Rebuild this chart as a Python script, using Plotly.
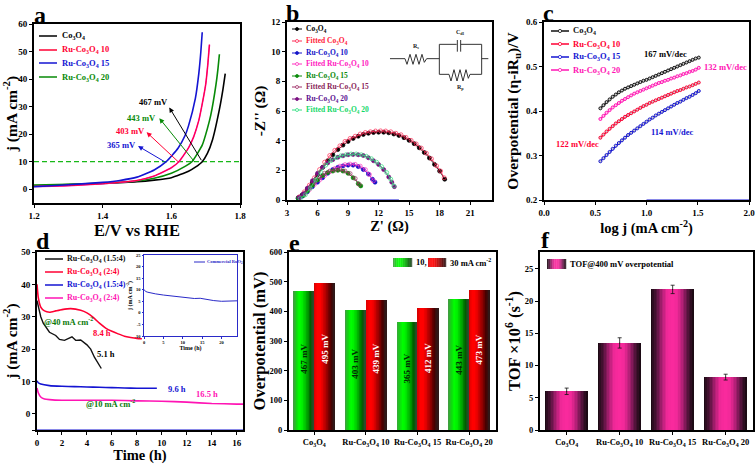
import plotly.graph_objects as go

W, H = 756, 464
FONT = "Liberation Serif"
BLACK, RED, BLUE, GREEN, MAG = "#000000", "#ff0033", "#1414d2", "#078a07", "#ff14b4"

# ---------- panel a
a_black_x = [1.2,1.3,1.4,1.5,1.55,1.6,1.65,1.67,1.69,1.705,1.72,1.74,1.75,1.757]
a_black_y = [1.2,1.7,2.1,2.7,3.3,4.2,6.5,8,10,13,18,29,36,42]
a_red_x = [1.2,1.3,1.4,1.5,1.55,1.6,1.622,1.65,1.665,1.68,1.69,1.7,1.706,1.711]
a_red_y = [1.0,1.3,2.0,3.2,4.8,7.8,10,15,19,25,31,38,45,52.5]
a_blue_x = [1.2,1.3,1.4,1.45,1.5,1.55,1.585,1.62,1.64,1.65,1.67,1.68,1.686,1.69]
a_blue_y = [0.9,1.6,2.5,3.2,4.4,7,10,15,19.5,23,33,42,50,57]
a_green_x = [1.2,1.3,1.4,1.5,1.55,1.6,1.64,1.66,1.69,1.705,1.715,1.73,1.736,1.74]
a_green_y = [1.5,1.8,2.2,3.0,4,5.8,8.3,10,16,22,27,38,44,49]
a_refx = [1.2, 1.8]
a_refy = [10, 10]

# ---------- panel b
b_co_x = [4.1,4.5,5,5.5,6,6.5,7,7.5,8,8.5,9,9.5,10,10.5,11,11.5,12,12.5,13,13.5,14,14.5,15,15.5,16,16.5,17,17.5,18,18.5]
b_co_y = [.15,.35,.75,1.2,1.7,2.2,2.65,3.05,3.4,3.7,3.95,4.15,4.3,4.42,4.5,4.55,4.57,4.57,4.53,4.45,4.35,4.2,4.02,3.8,3.52,3.2,2.83,2.4,1.95,1.4]
b_fco_x = [4.2,4.7,5.2,5.7,6.2,6.7,7.2,7.7,8.2,8.7,9.2,9.7,10.2,10.7,11.2,11.7,12.2,12.7,13.2,13.7,14.2,14.7,15.2,15.7,16.2,16.7,17.2,17.7,18.1,18.45]
b_fco_y = [.2,.55,1.0,1.5,2.05,2.55,3.0,3.35,3.65,3.95,4.15,4.3,4.45,4.55,4.6,4.65,4.66,4.65,4.6,4.5,4.4,4.22,4.02,3.78,3.5,3.15,2.78,2.3,1.95,1.5]
b_10_x = [4.1,4.5,5,5.5,6,6.5,7,7.5,8,8.5,9,9.5,10,10.5,11,11.4,11.65]
b_10_y = [.1,.25,.55,.9,1.2,1.5,1.8,2.05,2.2,2.3,2.35,2.35,2.25,2.05,1.75,1.4,1.2]
b_f10_x = [4.2,4.7,5.2,5.7,6.2,6.7,7.2,7.7,8.2,8.7,9.2,9.7,10.2,10.7,11.1,11.5]
b_f10_y = [.15,.4,.7,1.05,1.35,1.65,1.9,2.12,2.28,2.38,2.42,2.4,2.28,2.05,1.72,1.3]
b_15_x = [4.1,4.6,5,5.5,6,6.5,7,7.5,8,8.5,9,9.5,10,10.25]
b_15_y = [.1,.3,.6,1.0,1.35,1.65,1.85,1.95,2.0,1.95,1.8,1.5,1.1,.95]
b_f15_x = [4.2,4.7,5.2,5.7,6.2,6.7,7.2,7.7,8.2,8.7,9.2,9.7,10.1]
b_f15_y = [.2,.45,.8,1.2,1.55,1.8,1.95,2.02,2.05,1.95,1.78,1.45,1.05]
b_20_x = [4.2,4.6,5,5.5,6,6.5,7,7.5,8,8.5,9,9.5,10,10.5,11,11.5,12,12.5,13,13.3,13.55]
b_20_y = [.15,.4,.8,1.3,1.8,2.2,2.5,2.72,2.88,2.98,3.05,3.07,3.05,3.0,2.85,2.65,2.4,2.05,1.55,1.2,.9]
b_f20_x = [4.3,4.8,5.3,5.8,6.3,6.8,7.3,7.8,8.3,8.8,9.3,9.8,10.3,10.8,11.3,11.8,12.3,12.8,13.2,13.5]
b_f20_y = [.1,.35,.8,1.35,1.9,2.35,2.65,2.85,2.98,3.05,3.1,3.1,3.05,2.95,2.78,2.55,2.25,1.85,1.4,.95]
b_base_x = [6, 14]
b_base_y = [0, 0]

# ---------- panel c
c_x = [.55,.58,.61,.64,.67,.70,.73,.76,.79,.82,.85,.88,.91,.94,.97,1.00,1.03,1.06,1.09,1.12,1.15,1.18,1.21,1.24,1.27,1.30,1.33,1.36,1.39,1.42,1.45,1.48,1.51]
c_black = [.406,.413,.420,.426,.432,.437,.442,.446,.450,.453,.456,.459,.462,.465,.468,.470,.473,.476,.479,.482,.485,.488,.491,.494,.497,.500,.503,.506,.509,.512,.515,.518,.520]
c_mag = [.382,.389,.396,.402,.408,.413,.418,.423,.427,.431,.435,.439,.442,.445,.448,.451,.454,.457,.460,.463,.465,.468,.470,.473,.475,.478,.480,.483,.485,.488,.490,.493,.497]
c_red = [.340,.347,.354,.360,.366,.372,.377,.382,.387,.391,.395,.399,.403,.407,.411,.414,.418,.421,.424,.427,.430,.433,.436,.439,.442,.445,.447,.450,.453,.455,.458,.461,.464]
c_blue = [.287,.294,.301,.308,.315,.322,.328,.334,.340,.346,.351,.356,.361,.366,.371,.376,.381,.385,.390,.394,.398,.402,.406,.410,.414,.418,.421,.425,.429,.432,.436,.440,.445]
c_base_x = [1.0, 2.0]
c_base_y = [0.2, 0.2]

# ---------- panel d
d_black_x = [0,.1,.3,.5,1,1.5,1.8,2.2,2.5,2.8,3.1,3.5,4,4.3,4.6,5,5.15]
d_black_y = [35,33,30,28,25.2,24.2,23,22.7,23.2,23.8,22.7,22.8,21.3,20,17.5,15,14]
d_red_x = [0,.1,.3,.6,1,1.5,2,2.7,3.5,4,4.5,5,5.5,6,6.5,7,7.5,8,8.4]
d_red_y = [40,36,33,31.8,31.4,31.8,32.2,32.5,32,31.2,29.8,28,26.5,25.5,24.7,24,23.6,23.3,23.2]
d_blue_x = [0,.1,.3,1,2,3,4,5,6,7,8,9,9.6]
d_blue_y = [10.2,9.6,9.2,8.7,8.5,8.4,8.3,8.2,8.1,8,7.9,7.9,7.9]
d_mag_x = [0,.1,.3,.6,1,2,4,6,8,10,12,14,16,16.5]
d_mag_y = [8,6.5,5.2,4.6,4.4,4.2,4.2,4.2,4,3.9,3.6,3.2,3,3]
d_base_x = [0, 16.5]
d_base_y = [-5, -5]
inset_x = [0,.5,1,2,3,5,6,7,8,10,11,12,13,14.5,16,18,20,21,22,24]
inset_y = [10,9.2,8.9,8.5,8.2,7.7,7.5,7.1,6.9,6.7,6.6,6.2,6.2,6.3,5.8,5.3,5,5.1,5.2,5.2]

# ---------- panels e, f
CATS = ["Co<sub>3</sub>O<sub>4</sub>", "Ru-Co<sub>3</sub>O<sub>4</sub> 10",
        "Ru-Co<sub>3</sub>O<sub>4</sub> 15", "Ru-Co<sub>3</sub>O<sub>4</sub> 20"]
e_10 = [467, 403, 365, 443]
e_30 = [495, 439, 412, 473]
f_tof = [6.0, 13.5, 21.8, 8.2]
f_err = [0.5, 0.8, 0.65, 0.45]

GREEN_STOPS = ["#3f9f3f","#10d810","#00ff00","#00f000","#00c800","#009800","#005c00","#2c4c2c"]
RED_STOPS = ["#d80000","#ff0000","#ff0000","#e00000","#b00000","#800000","#480000","#301818"]
PINK_STOPS = ["#1c0a14","#5a1440","#b01f75","#f02898","#fb2a9e","#f02898","#b01f75","#5a1440","#1c0a14"]

def ramp(stops, n=28):
    rgb = [tuple(int(s[i:i+2], 16) for i in (1, 3, 5)) for s in stops]
    out = []
    for k in range(n):
        t = k / (n - 1) * (len(rgb) - 1)
        i = min(int(t), len(rgb) - 2)
        f = t - i
        out.append("#%02x%02x%02x" % tuple(round(a + (b - a) * f) for a, b in zip(rgb[i], rgb[i + 1])))
    return out

GREEN_RAMP, RED_RAMP, PINK_RAMP = ramp(GREEN_STOPS), ramp(RED_STOPS), ramp(PINK_STOPS)

fig = go.Figure()
shapes, annos = [], []

def fnt(size, color=BLACK):
    return dict(family=FONT, size=size, color=color, weight="bold")

def px(x): return x / W
def py(y): return 1 - y / H

def text(x, y, s, color=BLACK, size=8, anchor="left", angle=0):
    annos.append(dict(xref="paper", yref="paper", x=px(x), y=py(y), text=s, showarrow=False,
                      xanchor=anchor, yanchor="middle", textangle=angle, font=fnt(size, color)))

def hline(x0, x1, y, color, width=1.5):
    shapes.append(dict(type="line", xref="paper", yref="paper", x0=px(x0), x1=px(x1), y0=py(y), y1=py(y),
                       line=dict(color=color, width=width)))

def dot(x, y, r, color, fill):
    shapes.append(dict(type="circle", xref="paper", yref="paper", x0=px(x-r), x1=px(x+r), y0=py(y+r), y1=py(y-r),
                       fillcolor=fill, line=dict(color=color, width=0.8)))

def swatch(x0, x1, y0, y1, colors):
    n = len(colors)
    for i, c in enumerate(colors):
        shapes.append(dict(type="rect", xref="paper", yref="paper",
                           x0=px(x0 + (x1-x0)*i/n), x1=px(x0 + (x1-x0)*(i+1)/n + 0.2), y0=py(y1), y1=py(y0),
                           fillcolor=c, line=dict(width=0)))

axes = {}
def axis_pair(idx, box, xr, yr, xticks, yticks, xlabels=None, ylabels=None, xtitle=None, ytitle=None,
              tick=9, title=16.5, xsize=None, xstand=2, ystand=2, color=BLACK, lw=2, ticklen=3):
    l, t, r, b = box
    sx = "" if idx == 1 else str(idx)
    axes[f"xaxis{sx}"] = dict(domain=[px(l), px(r)], range=xr, anchor=f"y{sx}", tickmode="array", tickvals=xticks,
        ticktext=xlabels or [str(v) for v in xticks], ticks="outside", ticklen=ticklen, tickwidth=1, tickcolor=color,
        showgrid=False, zeroline=False, showline=True, mirror=True, linecolor=color, linewidth=lw, automargin=False,
        tickangle=0, tickfont=fnt(tick),
        title=dict(text=xtitle, standoff=xstand, font=fnt(xsize or title)) if xtitle else None)
    axes[f"yaxis{sx}"] = dict(domain=[py(b), py(t)], range=yr, anchor=f"x{sx}", tickmode="array", tickvals=yticks,
        ticktext=ylabels or [str(v) for v in yticks], ticks="outside", ticklen=ticklen, tickwidth=1, tickcolor=color,
        showgrid=False, zeroline=False, showline=True, mirror=True, linecolor=color, linewidth=lw, automargin=False,
        tickfont=fnt(tick),
        title=dict(text=ytitle, standoff=ystand, font=fnt(title)) if ytitle else None)
    return f"x{sx}", f"y{sx}"

def curve(ax, x, y, color, width=1.6, dash=None, shape="spline"):
    line = dict(color=color, width=width, dash=dash, shape=shape)
    if shape == "spline":
        line["smoothing"] = 0.5
    fig.add_trace(go.Scatter(x=x, y=y, mode="lines", xaxis=ax[0], yaxis=ax[1], showlegend=False,
                             line=line, hoverinfo="skip", cliponaxis=False))

def strips(ax, centers, values, width, colors):
    n = len(colors)
    for i, c in enumerate(colors):
        off = -width/2 + width*i/n
        fig.add_trace(go.Bar(x=centers, y=values, offset=off, width=width/n*1.15, xaxis=ax[0], yaxis=ax[1],
                             marker=dict(color=c, line=dict(width=0)), showlegend=False, hoverinfo="skip"))

# ---- a
A = axis_pair(1, (34, 24, 240, 203), [1.2, 1.8], [-5, 60], [1.2, 1.4, 1.6, 1.8], [0, 10, 20, 30, 40, 50, 60],
              xlabels=["1.2", "1.4", "1.6", "1.8"], xtitle="E/V vs RHE", ytitle="j (mA cm<sup>-2</sup>)",
              title=15.5, xsize=16.5, ystand=4)
curve(A, a_refx, a_refy, "#18b818", 1.3, "5px,3px", "linear")
curve(A, a_black_x, a_black_y, BLACK)
curve(A, a_green_x, a_green_y, GREEN)
curve(A, a_red_x, a_red_y, MAG)
curve(A, a_red_x, a_red_y, RED, 1.0)
curve(A, a_blue_x, a_blue_y, BLUE)
for lab, col, lx, ly, tx, ty, hx, hy in [
    ("467 mV", BLACK, 1.547, 31.5, 1.69, 10, 1.594, 29.7),
    ("443 mV", GREEN, 1.513, 26, 1.671, 9.4, 1.565, 25.8),
    ("403 mV", RED, 1.482, 21, 1.625, 9.4, 1.528, 20.7),
    ("365 mV", BLUE, 1.455, 16, 1.583, 9.8, 1.503, 15.7)]:
    annos.append(dict(xref="x", yref="y", x=hx, y=hy, ax=tx, ay=ty, axref="x", ayref="y", showarrow=True,
                      arrowhead=2, arrowsize=1, arrowwidth=1, arrowcolor=col, text=""))
    annos.append(dict(xref="x", yref="y", x=lx, y=ly, text=lab, showarrow=False, font=fnt(8.5, col)))
for y, s, c in zip([36, 50, 63, 77], CATS, [BLACK, RED, BLUE, GREEN]):
    hline(39, 57, y, c)
    text(60, y, s, c, 8.5)

# ---- b
B = axis_pair(2, (287, 22, 492, 200), [3, 23.15], [0, 12], [3, 6, 9, 12, 15, 18, 21], [0, 2, 4, 6, 8, 10, 12],
              xtitle="Z' (Ω)", ytitle="-Z'' (Ω)", title=15.5, xsize=14.5)
b_series = [
    (b_co_x, b_co_y, "#000000", True, "Co<sub>3</sub>O<sub>4</sub>", "#000000"),
    (b_fco_x, b_fco_y, "#ff2a55", False, "Fitted Co<sub>3</sub>O<sub>4</sub>", "#ff1a3a"),
    (b_10_x, b_10_y, "#1414c8", True, "Ru-Co<sub>3</sub>O<sub>4</sub> 10", "#1414c8"),
    (b_f10_x, b_f10_y, "#ff30c0", False, "Fitted Ru-Co<sub>3</sub>O<sub>4</sub> 10", "#ff20c0"),
    (b_15_x, b_15_y, "#0a8a0a", True, "Ru-Co<sub>3</sub>O<sub>4</sub> 15", "#0a8a0a"),
    (b_f15_x, b_f15_y, "#a03068", False, "Fitted Ru-Co<sub>3</sub>O<sub>4</sub> 15", "#8a1f5a"),
    (b_20_x, b_20_y, "#7a0f80", True, "Ru-Co<sub>3</sub>O<sub>4</sub> 20", "#5a1090"),
    (b_f20_x, b_f20_y, "#30e080", False, "Fitted Ru-Co<sub>3</sub>O<sub>4</sub> 20", "#14d868"),
]
curve(B, b_base_x, b_base_y, BLUE, 1.2, None, "linear")
for (x, y, col, filled, name, tc), ly in zip(b_series, [29, 41, 53, 64, 76, 87, 99, 110]):
    fig.add_trace(go.Scatter(x=x, y=y, mode="lines+markers", xaxis=B[0], yaxis=B[1], showlegend=False, hoverinfo="skip",
                             line=dict(color=col, width=0.8),
                             marker=dict(symbol="circle" if filled else "circle-open", size=4, color=col,
                                         line=dict(color=col, width=0.7))))
    hline(292, 302, ly, col, 1)
    dot(297, ly, 1.5, col, col if filled else "#ffffff")
    text(304, ly, name, tc, 7.5)

# circuit diagram
def cx(v): return px(385 + v/3)
def cy(v): return py(25 + v/3)
def poly(points):
    return "M " + " L ".join(f"{cx(a):.5f},{cy(b):.5f}" for a, b in points)
CIRC = "#333333"
wires = [[(15,101),(60,101),(66,118),(75,88),(84,118),(93,88),(102,118),(111,88),(118,112),(125,101),(163,101)],
         [(215,58),(163,58),(163,148),(192,148),(198,168),(207,134),(216,168),(225,134),(234,168),(243,134),(250,160),(255,148),(290,148),(290,58),(227,58)],
         [(217,45),(217,80)], [(227,45),(227,80)], [(290,101),(310,101)]]
for w in wires:
    shapes.append(dict(type="path", xref="paper", yref="paper", path=poly(w), line=dict(color=CIRC, width=1)))
text(385+93/3, 25+65/3, "R<sub>s</sub>", "#222222", 6, "center")
text(385+226/3, 25+22/3, "C<sub>dl</sub>", "#222222", 6, "center")
text(385+226/3, 25+188/3, "R<sub>p</sub>", "#222222", 6, "center")

# ---- c
C = axis_pair(3, (544, 22, 749, 200), [0, 2], [0.2, 0.6], [0, .5, 1, 1.5, 2], [.2, .3, .4, .5, .6],
              xlabels=["0.0", "0.5", "1.0", "1.5", "2.0"], ylabels=["0.2", "0.3", "0.4", "0.5", "0.6"],
              xtitle="log j (mA cm<sup>-2</sup>)", ytitle="Overpotential (η-iR<sub>u</sub>)/V",
              title=15.5, xsize=14.5, ystand=4)
curve(C, c_base_x, c_base_y, BLUE, 1.2, None, "linear")
for y, col in [(c_black, "#111111"), (c_mag, MAG), (c_red, RED), (c_blue, BLUE)]:
    fig.add_trace(go.Scatter(x=c_x, y=y, mode="lines+markers", xaxis=C[0], yaxis=C[1], showlegend=False, hoverinfo="skip",
                             line=dict(color=col, width=1.6),
                             marker=dict(size=3, color="#ffc8e8" if col == MAG else "#cccccc", line=dict(color=col, width=1))))
for y, s, c in zip([31, 44, 57, 70], CATS, ["#111111", RED, BLUE, MAG]):
    hline(551, 569, y, c, 1.5)
    dot(560, y, 1.6, c, "#ffffff")
    text(571, y, s, c, 8.5)
text(665, 54, "167 mV/dec", BLACK, 8.5, "center")
text(725, 67, "132 mV/dec", MAG, 8.5, "center")
text(577, 144, "122 mV/dec", RED, 8.5, "center")
text(672, 132, "114 mV/dec", BLUE, 8.5, "center")

# ---- d
D = axis_pair(4, (37, 252, 243, 430), [0, 16.5], [-5, 50], [0, 2, 4, 6, 8, 10, 12, 14, 16], [-5, 0, 10, 20, 30, 40, 50],
              ylabels=[" ", "0", "10", "20", "30", "40", "50"], xtitle="Time (h)", ytitle="j (mA cm<sup>-2</sup>)",
              title=15.5, xsize=14.5, xstand=5, ystand=4)
curve(D, d_base_x, d_base_y, BLUE, 1.2, None, "linear")
curve(D, d_mag_x, d_mag_y, MAG)
curve(D, d_blue_x, d_blue_y, BLUE)
curve(D, d_red_x, d_red_y, RED)
curve(D, d_black_x, d_black_y, "#111111", 1.4, None, "linear")
for y, c in zip([259, 272, 285, 298], ["#111111", RED, BLUE, MAG]):
    hline(45, 63, y, c)
    text(65, y, "Ru-Co<sub>3</sub>O<sub>4</sub> " + ("(1.5:4)" if y in (259, 285) else "(2:4)"), c, 8)
text(68, 321, "@40 mA cm<sup>-2</sup>", "#0a7a0a", 8.5, "center")
text(102, 333, "8.4 h", RED, 8.5, "center")
text(106, 354, "5.1 h", BLACK, 8.5, "center")
text(177, 389, "9.6 h", BLUE, 8.5, "center")
text(110, 403, "@10 mA cm<sup>-2</sup>", "#0a7a0a", 8.5, "center")
text(207, 394, "16.5 h", MAG, 8.5, "center")

# ---- inset
I = axis_pair(5, (144, 255, 237, 336), [0, 24], [-10, 25], [0, 5, 10, 15, 20], [-10, -5, 0, 5, 10, 15, 20, 25],
              xtitle="Time (h)", ytitle="j (mA cm<sup>-2</sup>)", tick=4.5, title=6, xstand=1, ystand=1,
              color="#2a2ac8", lw=1, ticklen=1.5)
curve(I, inset_x, inset_y, "#2a2ac8", 1.0, None, "linear")
hline(194, 205, 262, "#2a2ac8", 1)
text(205, 262, "Commercial RuO<sub>2</sub>", "#2a2ac8", 4.5)

# ---- e
CX = [0, 1, 2, 3]
E = axis_pair(6, (289, 252, 496, 430), [-0.49, 3.52], [0, 600], CX, [0, 100, 200, 300, 400, 500, 600],
              xlabels=CATS, ytitle="Overpotential (mV)", tick=8.5, ystand=0)
BW = 0.39
strips(E, [c - 0.2 for c in CX], e_10, BW, GREEN_RAMP)
strips(E, [c + 0.2 for c in CX], e_30, BW, RED_RAMP)
for c, v, yy in zip(CX, e_10, [240, 222, 208, 236]):
    annos.append(dict(xref="x6", yref="y6", x=c-0.2, y=yy, text=f"{v} mV", textangle=-90, showarrow=False,
                      font=fnt(9, "#022a02")))
for c, v, yy in zip(CX, e_30, [273, 242, 242, 273]):
    annos.append(dict(xref="x6", yref="y6", x=c+0.2, y=yy, text=f"{v} mV", textangle=-90, showarrow=False,
                      font=fnt(9, "#ffffff")))
swatch(393, 412, 258, 267, GREEN_RAMP)
swatch(428, 446, 258, 267, RED_RAMP)
text(414, 262, "10,", BLACK, 8.5)
text(448, 262, "30 mA cm<sup>-2</sup>", BLACK, 8.5)

# ---- f
F = axis_pair(7, (540, 252, 753, 430), [-0.503, 3.516], [0, 27.6], CX, [0, 5, 10, 15, 20, 25],
              xlabels=CATS, ytitle="TOF ×10<sup>6</sup> (s<sup>-1</sup>)", tick=8.5, ystand=0)
strips(F, CX, f_tof, 0.8, PINK_RAMP)
fig.add_trace(go.Scatter(x=CX, y=f_tof, mode="markers", xaxis=F[0], yaxis=F[1], marker=dict(size=1, color="#111111"),
                         error_y=dict(type="data", array=f_err, color="#111111", thickness=0.8, width=2),
                         showlegend=False, hoverinfo="skip"))
swatch(547, 566, 259, 269, PINK_RAMP)
text(568, 264, "TOF@400 mV overpotential", BLACK, 8.5)

# panel letters
for x, y, s in [(40, 15, "a"), (292, 13.5, "b"), (548, 13.5, "c"), (43, 241, "d"), (294, 243, "e"), (545, 240, "f")]:
    text(x, y, s, BLACK, 24, "center")

fig.update_layout(width=W, height=H, margin=dict(l=0, r=0, t=0, b=0), plot_bgcolor="#ffffff", paper_bgcolor="#ffffff",
                  barmode="overlay", showlegend=False, shapes=shapes, annotations=annos, bargap=0, **axes)
fig.write_html("out.html", config=dict(displayModeBar=False),
               post_script="document.body.style.margin='0';document.body.style.overflow='hidden';")
